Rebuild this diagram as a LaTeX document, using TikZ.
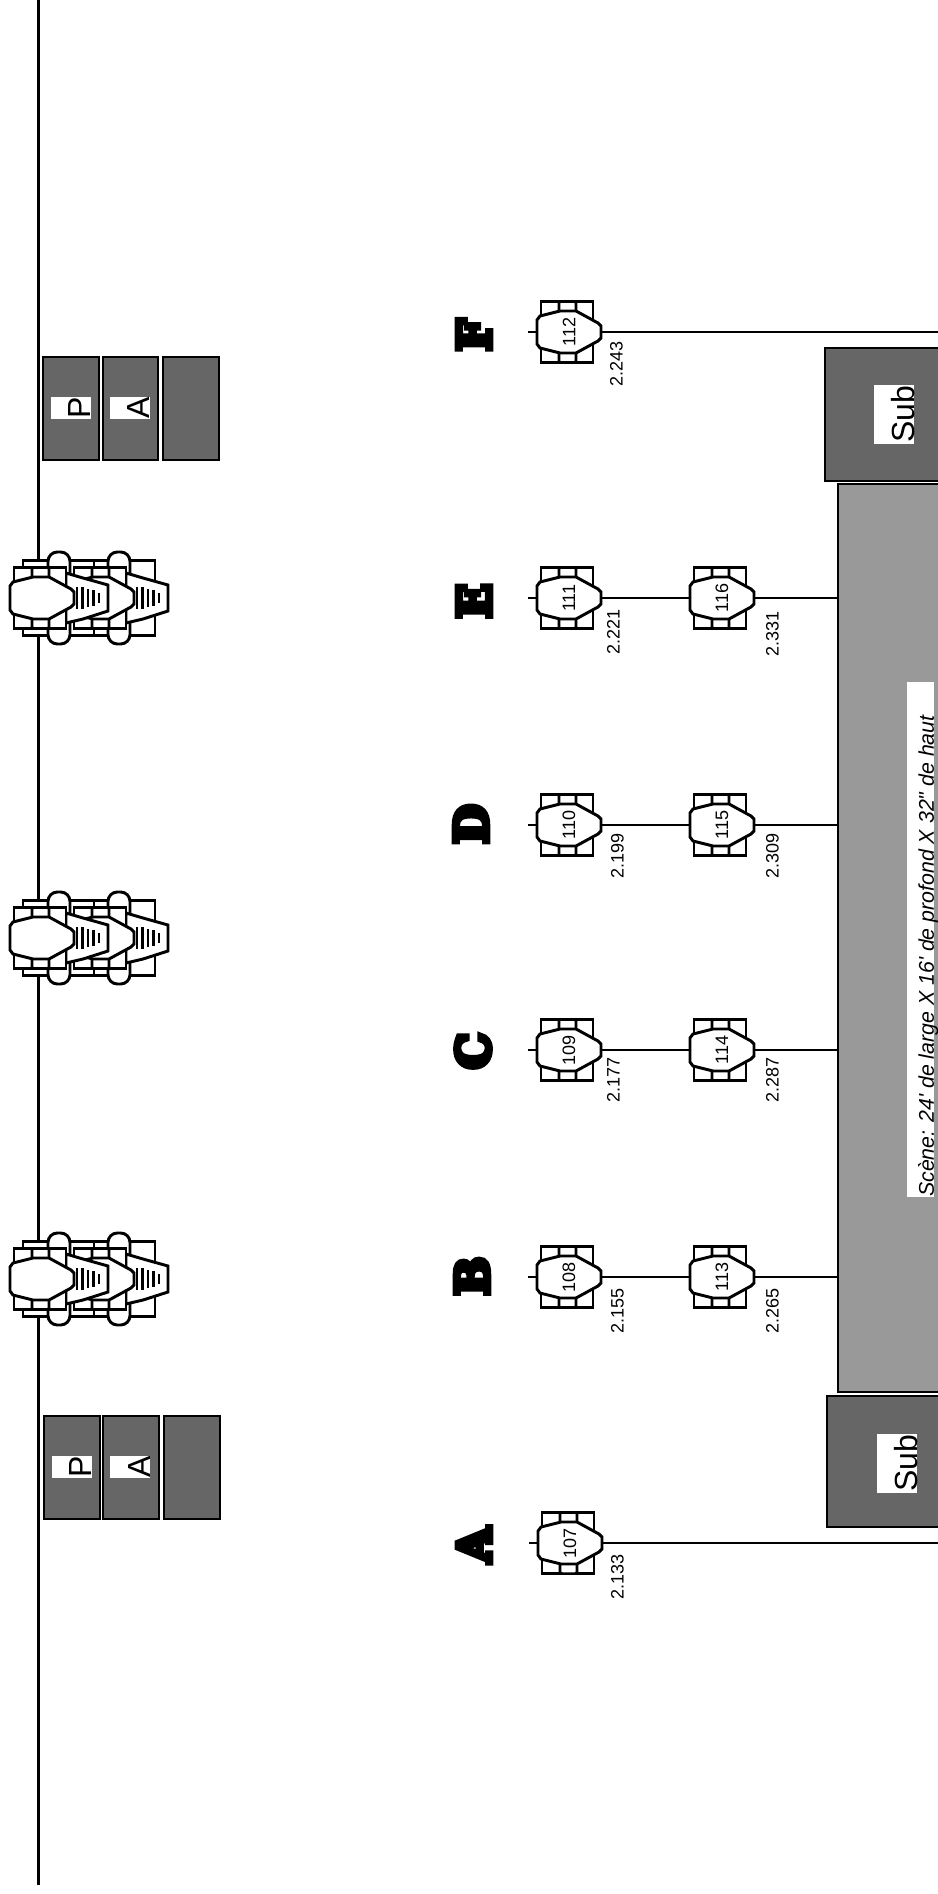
\documentclass[tikz,border=0pt]{standalone}
\usepackage{fontspec}
\usepackage{graphicx}
\newfontfamily\arialfont{Liberation Sans}
\newfontfamily\slabfont[BoldFeatures={FakeBold=12}]{DejaVu Serif}
\definecolor{ampgray}{gray}{0.4}
\definecolor{stagegray}{gray}{0.6}
\tikzset{
 outline/.style={draw=black,line width=2.2pt,fill=white},
 thinline/.style={draw=black,line width=1.9pt,fill=white},
 grill/.style={draw=black,line width=2.2pt},
 wire/.style={draw=black,line width=2pt},
 graybox/.style={draw=black,line width=2pt,fill=ampgray},
 rowletter/.style={font=\slabfont\bfseries\fontsize{34}{34}\selectfont,inner sep=0pt},
 dimension/.style={font=\arialfont\fontsize{13.5}{14}\selectfont,rotate=90,inner sep=0pt,anchor=south},
 tag/.style={font=\arialfont\fontsize{24}{24}\selectfont,fill=white,rotate=90,inner xsep=.6pt,inner ysep=0pt,text height=30pt,text depth=0pt},
}
% front fixture: x, y
\newcommand{\lampbody}[2]{
 \begin{scope}[shift={(#1,#2)}]
 \path[thinline] (-26,-30.5) rectangle (26,30.5);
 \path[thinline,rounded corners=1.5pt] (-8,-30.5) rectangle (9,-18);
 \path[thinline,rounded corners=1.5pt] (-8,18) rectangle (9,30.5);
 \path[outline] (-30,-12)--(-27,-16)--(-7,-21)--(9,-21)--(31,-9)--(34,-6)--(34,6)--(31,9)--(9,21)--(-7,21)--(-27,16)--(-30,12)--cycle;
 \end{scope}}
% numbered fixture on a bar
\newcommand{\spot}[3]{
 \lampbody{#1}{#2}
 \node[font=\arialfont\fontsize{13.5}{14}\selectfont,minimum width=48pt,minimum height=30pt,inner sep=0pt,outer sep=0pt] (f#3) at (#1+2,#2) {\rotatebox{90}{#3}};
 \coordinate (s#3) at (#1-39,#2);}
% striped back of a floor unit
\newcommand{\horn}[2]{
 \begin{scope}[shift={(#1,#2)}]
 \path[outline] (0,-25)--(17,-20)--(42,-13)--(42,13)--(17,21)--(0,25)--cycle;
 \foreach \dx/\dy in {11/11,16.5/11,22/9,27.5/8,33/5}
  \draw[grill] (\dx,-\dy)--(\dx,\dy);
 \end{scope}}
% floor group
\newcommand{\floorgroup}[1]{
 \begin{scope}[shift={(0,#1)}]
 \path[thinline] (23,-37.5) rectangle (94,37.5);
 \path[thinline] (94,-37.5) rectangle (155,37.5);
 \path[outline,rounded corners=7pt] (48,-46) rectangle (70,46);
 \path[outline,rounded corners=7pt] (108,-46) rectangle (130,46);
 \end{scope}
 \horn{126}{#1}
 \lampbody{100}{#1}
 \horn{66}{#1}
 \lampbody{40}{#1}}

\begin{document}
\begin{tikzpicture}[x=.75pt,y=-.75pt]
\path[use as bounding box,clip] (0,0) rectangle (938,1894);
\coordinate (linetop) at (38.5,0);
\coordinate (linebot) at (38.5,1885);
\coordinate (stageedge) at (838,0);
\coordinate (pageedge) at (940,0);
\draw[wire] (linetop)--(linebot);
% amps
\draw[graybox] (43,357) rectangle (99,460);
\draw[graybox] (103,357) rectangle (158,460);
\draw[graybox] (163,357) rectangle (219,460);
\draw[graybox] (44,1416) rectangle (100,1519);
\draw[graybox] (103,1416) rectangle (159,1519);
\draw[graybox] (164,1416) rectangle (220,1519);
\node[tag] (amptopP) at (70.5,408) {P};
\node[tag] (amptopA) at (129.5,408) {A};
\node[tag] (ampbotP) at (71.5,1467) {P};
\node[tag] (ampbotA) at (130,1467) {A};
% floor units
\floorgroup{598}
\floorgroup{938}
\floorgroup{1279}
% stage and subs
\draw[graybox,fill=stagegray] (838,484) rectangle (1000,1392);
\draw[graybox] (825,348) rectangle (1000,481);
\draw[graybox] (827,1396) rectangle (1000,1527);
\node[tag] (subtop) at (894,414.5) {Sub};
\node[tag] (subbot) at (897,1463.5) {Sub};
\node[font=\arialfont\itshape\fontsize{16}{16}\selectfont,fill=white,rotate=90,inner sep=0pt,text height=20.2pt,text depth=0pt] (stagetext) at (920.5,939.5) {\makebox[386pt][l]{Scène: 24' de large X 16' de profond X 32" de haut}};
% row letters
\node[rowletter] (rowF) at (474,335) {\rotatebox{90}{F}};
\node[rowletter] (rowE) at (474,601) {\rotatebox{90}{E}};
\node[rowletter] (rowD) at (471,824) {\rotatebox{90}{D}};
\node[rowletter] (rowC) at (473,1051) {\rotatebox{90}{C}};
\node[rowletter] (rowB) at (472,1276) {\rotatebox{90}{B}};
\node[rowletter] (rowA) at (474,1545) {\rotatebox{90}{A}};
% fixtures
\spot{567}{332}{112}
\spot{567}{598}{111}
\spot{720}{598}{116}
\spot{567}{825}{110}
\spot{720}{825}{115}
\spot{567}{1050}{109}
\spot{720}{1050}{114}
\spot{567}{1277}{108}
\spot{720}{1277}{113}
\spot{568}{1543}{107}
% bars
\draw[wire] (s112)--(f112);
\draw[wire] (f112)--(f112 -| pageedge);
\draw[wire] (s111)--(f111);
\draw[wire] (f111)--(f116);
\draw[wire] (f116)--(f116 -| stageedge);
\draw[wire] (s110)--(f110);
\draw[wire] (f110)--(f115);
\draw[wire] (f115)--(f115 -| stageedge);
\draw[wire] (s109)--(f109);
\draw[wire] (f109)--(f114);
\draw[wire] (f114)--(f114 -| stageedge);
\draw[wire] (s108)--(f108);
\draw[wire] (f108)--(f113);
\draw[wire] (f113)--(f113 -| stageedge);
\draw[wire] (s107)--(f107);
\draw[wire] (f107)--(f107 -| pageedge);
% dimensions
\node[dimension] (d243) at (623,364) {2.243};
\node[dimension] (d221) at (620,632) {2.221};
\node[dimension] (d331) at (779,634) {2.331};
\node[dimension] (d199) at (624,856) {2.199};
\node[dimension] (d309) at (779,856) {2.309};
\node[dimension] (d177) at (620,1080) {2.177};
\node[dimension] (d287) at (779,1080) {2.287};
\node[dimension] (d155) at (624,1311) {2.155};
\node[dimension] (d265) at (779,1311) {2.265};
\node[dimension] (d133) at (624,1577) {2.133};
\end{tikzpicture}
\end{document}
